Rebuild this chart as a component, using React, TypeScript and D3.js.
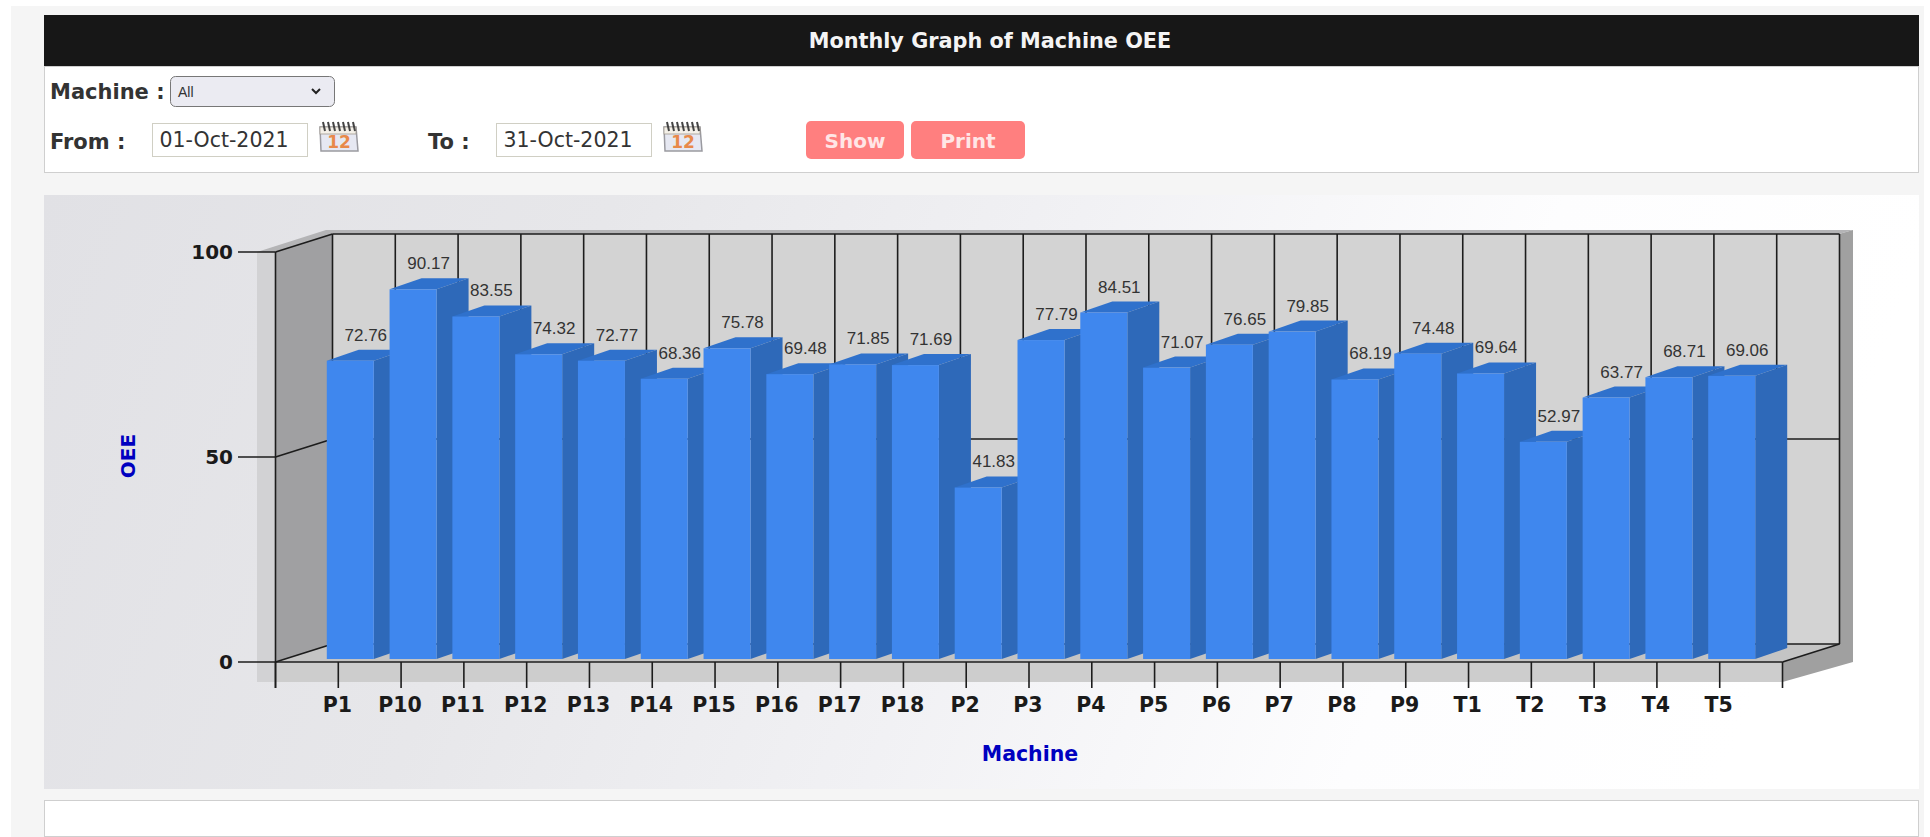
import React from "react";
import * as d3 from "d3";

const machines = ["P1","P10","P11","P12","P13","P14","P15","P16","P17","P18","P2","P3","P4","P5","P6","P7","P8","P9","T1","T2","T3","T4","T5"];
const oee = [72.76,90.17,83.55,74.32,72.77,68.36,75.78,69.48,71.85,71.69,41.83,77.79,84.51,71.07,76.65,79.85,68.19,74.48,69.64,52.97,63.77,68.71,69.06];
const yTicks = [0, 50, 100];

const W = 1930, H = 837;
const x = d3.scaleLinear().domain([0, 24]).range([275.5, 1782.5]);
const yAxis = d3.scaleLinear().domain([0, 100]).range([662, 252]);
const yBar = d3.scaleLinear().domain([0, 100]).range([659, 249]);
const DX = 57, DY = -18;       // wall depth
const BW = 47, BDX = 32, BDY = -11; // bar front width and depth
const sans = "'DejaVu Sans', sans-serif";
const pts = (p: number[][]) => p.map(a => a.join(",")).join(" ");

function Calendar({ cx }: { cx: number }) {
  return (
    <g>
      <path d={`M${cx - 18},127 L${cx + 18},127 L${cx + 20},151 L${cx - 17},151 Z`} fill="#e6e8f2" stroke="#9a9aa0" strokeWidth={1.5} />
      <rect x={cx - 18} y={127} width={36} height={7} fill="#f4f0e8" stroke="#a09a90" strokeWidth={0.8} />
      {d3.range(0, 7).map(i => (
        <line key={i} x1={cx - 15 + i * 5} x2={cx - 13 + i * 5} y1={122} y2={131} stroke="#444" strokeWidth={2} />
      ))}
      <text x={cx + 1} y={148} textAnchor="middle" fontFamily={sans} fontWeight="bold" fontSize={17} fill="#e8894a">12</text>
    </g>
  );
}

function Button({ bx, w, label }: { bx: number; w: number; label: string }) {
  return (
    <g>
      <rect x={bx} y={121} width={w} height={38} rx={5} fill="#ff7f7f" />
      <text x={bx + w / 2} y={148} textAnchor="middle" fontFamily={sans} fontWeight="bold" fontSize={20} fill="#ffe6e6">{label}</text>
    </g>
  );
}

function DateField({ fx, value }: { fx: number; value: string }) {
  return (
    <g>
      <rect x={fx + 0.5} y={123.5} width={155} height={33} fill="#fff" stroke="#d0cfc4" />
      <text x={fx + 72} y={147} textAnchor="middle" fontFamily={sans} fontSize={20.5} fill="#333">{value}</text>
    </g>
  );
}

export default function App() {
  const x0 = x(0), x1 = x(24);
  const y0 = yAxis(0), y100 = yAxis(100);
  const ink = "#1c1c1c";
  return (
    <svg width={W} height={H} style={{ position: "absolute", left: 0, top: 0, display: "block" }}>
      <defs>
        <linearGradient id="panel" x1="0" x2="1" y1="0" y2="0.12">
          <stop offset="0" stopColor="#e1e1e5" />
          <stop offset="0.3" stopColor="#e7e7ea" />
          <stop offset="0.55" stopColor="#f1f1f4" />
          <stop offset="0.8" stopColor="#fdfdfe" />
          <stop offset="1" stopColor="#ffffff" />
        </linearGradient>
      </defs>
      <rect width={W} height={H} fill="#ffffff" />
      <rect x={11} y={6} width={1913} height={H} fill="#f5f5f5" />

      {/* header and form */}
      <rect x={44} y={15} width={1875} height={51} fill="#171717" />
      <text x={990} y={48} textAnchor="middle" fontFamily={sans} fontWeight="bold" fontSize={20.8} fill="#f4f4f4">Monthly Graph of Machine OEE</text>
      <rect x={44.5} y={66.5} width={1874} height={106} fill="#fff" stroke="#cfcfcf" />
      <text x={50} y={99} fontFamily={sans} fontWeight="bold" fontSize={21} fill="#333">Machine :</text>
      <rect x={170.5} y={76.5} width={164} height={30} rx={5} fill="#ebebf2" stroke="#777" />
      <text x={178} y={97} fontFamily="'Liberation Sans', sans-serif" fontSize={14} fill="#333">All</text>
      <path d="M312,89 l4,4 l4,-4" fill="none" stroke="#222" strokeWidth={2} />
      <text x={50} y={149} fontFamily={sans} fontWeight="bold" fontSize={21} fill="#333">From :</text>
      <DateField fx={152} value="01-Oct-2021" />
      <Calendar cx={338} />
      <text x={428} y={149} fontFamily={sans} fontWeight="bold" fontSize={21} fill="#333">To :</text>
      <DateField fx={496} value="31-Oct-2021" />
      <Calendar cx={682} />
      <Button bx={806} w={98} label="Show" />
      <Button bx={911} w={114} label="Print" />

      {/* chart panel */}
      <rect x={44} y={195} width={1875} height={594} fill="url(#panel)" />

      {/* 3D shell */}
      <polygon points={pts([[257, y100], [326, 230], [1853, 230], [1853, y100 - 22], [1839, y100 - 18], [x0 + DX, y100 + DY], [x0, y100]])} fill="#b4b4b6" />
      <rect x={257} y={y100} width={x0 - 257} height={682 - y100} fill="#d2d2d4" />
      <rect x={x0} y={y0} width={x1 - x0} height={20} fill="#cdcdcd" />
      <polygon points={pts([[1839, 234], [1853, 230], [1853, 662], [x1, 682], [x1, y0], [1839, 644]])} fill="#a0a0a0" />

      {/* walls */}
      <rect x={x0 + DX} y={y100 + DY} width={x1 - x0} height={y0 - y100} fill="#d3d3d3" />
      <polygon points={pts([[x0, y100], [x0 + DX, y100 + DY], [x0 + DX, y0 + DY], [x0, y0]])} fill="#a0a0a2" />
      <polygon points={pts([[x0, y0], [x0 + DX, y0 + DY], [x1 + DX, y0 + DY], [x1, y0]])} fill="#c4c4c4" />

      {/* grid */}
      {d3.range(0, 25).map(i => (
        <line key={i} x1={x(i) + DX} x2={x(i) + DX} y1={y100 + DY} y2={y0 + DY} stroke={ink} strokeWidth={1.6} />
      ))}
      {yTicks.map(t => (
        <g key={t} stroke={ink} strokeWidth={1.6} fill="none">
          <line x1={x0 + DX} x2={x1 + DX} y1={yAxis(t) + DY} y2={yAxis(t) + DY} />
          <line x1={x0} x2={x0 + DX} y1={yAxis(t)} y2={yAxis(t) + DY} />
          <line x1={238} x2={x0} y1={yAxis(t)} y2={yAxis(t)} />
        </g>
      ))}
      <line x1={x1} x2={x1 + DX} y1={y0} y2={y0 + DY} stroke={ink} strokeWidth={1.6} />
      <line x1={x0} x2={x0} y1={y100} y2={688} stroke={ink} strokeWidth={1.6} />

      {/* bars */}
      {oee.map((v, i) => {
        const l = x(i + 1) - 11.5, r = l + BW, t = yBar(v), b = yBar(0);
        return (
          <g key={machines[i]}>
            <polygon points={pts([[l, t], [l + BDX, t + BDY], [r + BDX, t + BDY], [r, t]])} fill="#2f71cc" />
            <polygon points={pts([[r, t], [r + BDX, t + BDY], [r + BDX, b + BDY], [r, b]])} fill="#2e69b9" />
            <rect x={l} y={t} width={BW} height={b - t} fill="#3f87ee" />
          </g>
        );
      })}

      {/* front axis */}
      <line x1={x0} x2={x1} y1={y0} y2={y0} stroke={ink} strokeWidth={1.6} />
      {d3.range(0, 25).map(i => (
        <line key={i} x1={x(i)} x2={x(i)} y1={y0} y2={688} stroke={ink} strokeWidth={1.6} />
      ))}

      {/* value labels */}
      {oee.map((v, i) => (
        <text key={machines[i]} x={x(i + 1) + 27.5} y={yBar(v) - 20} textAnchor="middle" fontFamily="'Liberation Sans', sans-serif" fontSize={17} fill="#333">{v.toFixed(2)}</text>
      ))}

      {/* axis text */}
      {yTicks.map(t => (
        <text key={t} x={233} y={yAxis(t) + 7} textAnchor="end" fontFamily={sans} fontWeight="bold" fontSize={20} fill="#1a1a1a">{t}</text>
      ))}
      {machines.map((m, i) => (
        <text key={m} x={x(i + 1) - 1} y={712} textAnchor="middle" fontFamily={sans} fontWeight="bold" fontSize={20.5} fill="#1a1a1a">{m}</text>
      ))}
      <text x={1030} y={761} textAnchor="middle" fontFamily={sans} fontWeight="bold" fontSize={20.5} fill="#0000c0">Machine</text>
      <text transform="translate(135,456) rotate(-90)" textAnchor="middle" fontFamily={sans} fontWeight="bold" fontSize={20} fill="#0000c0">OEE</text>

      {/* lower empty box */}
      <rect x={44.5} y={800.5} width={1874} height={36} fill="#fff" stroke="#cfcfcf" />
    </svg>
  );
}
